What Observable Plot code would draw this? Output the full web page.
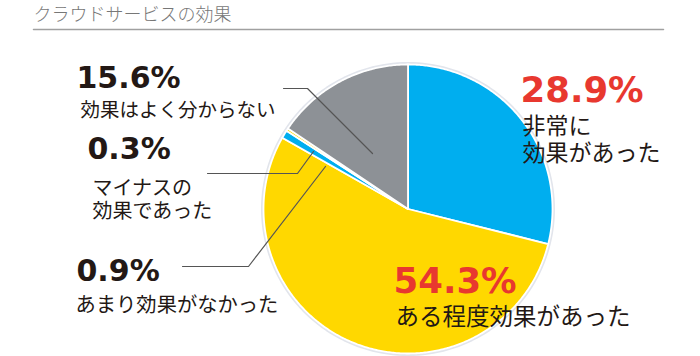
<!DOCTYPE html>
<html><head><meta charset="utf-8">
<script src="https://cdn.jsdelivr.net/npm/d3@7"></script>
<script src="https://cdn.jsdelivr.net/npm/@observablehq/plot@0.6"></script>
<style>body{margin:0;background:#fff}#chart svg{display:block}</style>
</head><body><div id="chart"></div>
<script>
// ---- data ----
const chartTitle = "クラウドサービスの効果";
const categories = ["非常に効果があった", "ある程度効果があった", "あまり効果がなかった", "マイナスの効果であった", "効果はよく分からない"];
const values = [28.9, 54.3, 0.9, 0.3, 15.6];
const valueLabels = ["28.9%", "54.3%", "0.9%", "0.3%", "15.6%"];
const nameLabels = ["非常に\n効果があった", "ある程度効果があった", "あまり効果がなかった", "マイナスの\n効果であった", "効果はよく分からない"];

// ---- styles / layout ----
const sliceColors = ["#00aeef", "#ffd800", "#00aeef", "#ffd800", "#8d9196"];
const pctColors = ["#e8382f", "#e8382f", "#231815", "#231815", "#231815"];
const W = 700, H = 356, cx = 407.5, cy = 208.5, R = 144.5;
const pctPos = [[520, 90], [393, 281.5], [76, 271], [87, 149], [76, 77.5]];
const pctSize = [35.5, 35.5, 30, 30, 30];
const namePos = [[522, 138.5], [395, 316], [75, 304], [92, 198.5], [80, 109]];
const nameSize = [23, 23.5, 20.3, 20, 19.5];
const nameLineHeight = 27 / 23;
const leaders = [
  null, null,
  [[182, 266], [248, 266], [325, 166]],
  [[207, 173], [297, 173], [313, 151]],
  [[283, 88], [307, 88], [372, 153]]
];

const rows = categories.map((c, i) => ({category: c, value: values[i], color: sliceColors[i], i}));
const arcs = d3.pie().sort(null).value(d => d.value)(rows);

function pt(a, r) { return [cx + r * Math.sin(a), cy - r * Math.cos(a)]; }
const slices = arcs.map(a => {
  const ring = [[cx, cy]];
  const n = Math.max(2, Math.ceil((a.endAngle - a.startAngle) / 0.01));
  for (let k = 0; k <= n; k++) ring.push(pt(a.startAngle + (a.endAngle - a.startAngle) * k / n, R));
  ring.push([cx, cy]);
  return {type: "Feature", properties: a.data, geometry: {type: "Polygon", coordinates: [ring]}};
});
const halo = {type: "Feature", properties: {}, geometry: {type: "LineString", coordinates: d3.range(0, 361, 2).map(d => pt(d * Math.PI / 180, R + 1))}};

const pctText = rows.map((r, i) => ({x: pctPos[i][0], y: pctPos[i][1], text: valueLabels[i], color: pctColors[i], size: pctSize[i]}));
const nameText = rows.map((r, i) => ({x: namePos[i][0], y: namePos[i][1], text: nameLabels[i], size: nameSize[i]}));
const leaderPts = leaders.flatMap((l, i) => l ? l.map(p => ({x: p[0], y: p[1], k: i})) : []);
const titleRow = [{x: 33, y: 14.5, text: chartTitle}];
const underline = [{x: 33, y: 29}, {x: 663, y: 29}];

const plot = Plot.plot({
  width: W, height: H, margin: 0,
  projection: {type: "identity", domain: {type: "MultiPoint", coordinates: [[0, 0], [W, H]]}},
  color: {type: "identity"},
  marks: [
    Plot.geo([halo], {stroke: "#e2e5ec", strokeWidth: 3, fill: "none"}),
    Plot.geo(slices, {fill: d => d.properties.color, stroke: "white", strokeWidth: 1.8, strokeLinejoin: "round"}),
    Plot.line(leaderPts, {x: "x", y: "y", z: "k", stroke: "#555", strokeWidth: 1.2}),
    Plot.line(underline, {x: "x", y: "y", stroke: "#a0a0a0", strokeWidth: 1.5}),
    Plot.text(titleRow, {x: "x", y: "y", text: "text", textAnchor: "start", fontSize: 18, fontWeight: 300, fill: "#777", fontFamily: "Noto Sans CJK JP"}),
    Plot.text(pctText, {x: "x", y: "y", text: "text", textAnchor: "start", fill: "color", fontSize: d => d.size, fontWeight: "bold", fontFamily: "DejaVu Sans"}),
    Plot.text(nameText, {x: "x", y: "y", text: "text", textAnchor: "start", fill: "#231815", fontSize: d => d.size, lineHeight: nameLineHeight, fontFamily: "Noto Sans CJK JP"})
  ]
});
document.getElementById("chart").appendChild(plot);
</script>
</body></html>
